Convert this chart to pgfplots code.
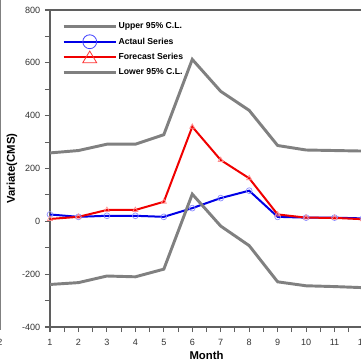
\documentclass[border=0pt]{standalone}
\usepackage{pgfplots}
\pgfplotsset{compat=1.18}
\usepackage{fontspec}
\setmainfont{Liberation Sans}
\definecolor{clgray}{RGB}{128,128,128}
\definecolor{axgray}{RGB}{95,95,95}
\definecolor{actblue}{RGB}{0,0,230}
\definecolor{fcred}{RGB}{240,0,0}
\begin{document}
\begin{tikzpicture}
\draw[clgray, line width=0.8pt] (0.6pt,272.25pt) -- (0.6pt,25pt);
\node[font=\fontsize{6.8}{8}\selectfont, text=black!80] at (0pt,15.75pt) {2};
\begin{axis}[
 at={(37.5pt,27pt)}, anchor=south west,
 scale only axis, width=234.75pt, height=237.75pt,
 xmin=1, xmax=12, ymin=-400, ymax=800,
 xtick={1,...,12}, minor xtick={1.5,2.5,...,11.5},
 ytick={-400,-200,...,800}, minor ytick={-300,-100,...,700},
 tick align=outside, xtick pos=bottom, ytick pos=left,
 major tick length=3.8pt, minor tick length=3.8pt,
 tick style={axgray, line width=0.8pt},
 axis line style={axgray, line width=1pt},
 ticklabel style={font=\fontsize{6.8}{8}\selectfont, text=black!80},
 xticklabel style={yshift=-1.5pt},
 /pgf/number format/assume math mode=true,
 xlabel={\textbf{Month}}, ylabel={\textbf{Variate(CMS)}},
 every axis x label/.style={at={(rel axis cs:0.5,0)}, yshift=-21pt, anchor=center, font=\fontsize{8.5}{10}\selectfont\bfseries},
 every axis y label/.style={at={(rel axis cs:0,0.5)}, xshift=-28.5pt, rotate=90, anchor=center, font=\fontsize{8.5}{10}\selectfont\bfseries},
 legend style={draw=none, fill=none, at={(rel axis cs:0,1)}, anchor=north west,
   xshift=6pt, yshift=-6pt, font=\fontsize{6.5}{7}\selectfont\bfseries,
   row sep=3.3pt, nodes={inner sep=1pt, text height=5pt, text depth=1.2pt}},
 legend cell align=left,
]
\addplot[clgray, line width=2.2pt,
  legend image code/.code={\draw[clgray, line width=2.2pt] (0pt,0pt) -- (39pt,0pt);}]
 coordinates {(1,259) (2,268) (3,292) (4,292) (5,328) (6,613) (7,492) (8,420) (9,287) (10,270) (11,268) (12,266)};
\addlegendentry{\textbf{Upper 95\% C.L.}}
\addplot[actblue, line width=1.5pt, mark=o, mark size=2.2pt, mark options={blue!45, line width=0.5pt},
  legend image code/.code={\draw[actblue, line width=1.5pt] (0pt,0pt) -- (39pt,0pt);
    \draw[overlay, blue!75, line width=0.6pt] (19.5pt,0pt) circle (5.2pt);}]
 coordinates {(1,26) (2,17) (3,21) (4,21) (5,17) (6,50) (7,88) (8,116) (9,17) (10,14) (11,14) (12,11)};
\addlegendentry{\textbf{Actaul Series}}
\addplot[fcred, line width=1.5pt, mark=triangle, mark size=2.2pt, mark options={red!45, line width=0.5pt},
  legend image code/.code={\draw[fcred, line width=1.5pt] (0pt,0pt) -- (39pt,0pt);
    \draw[overlay, red!80, line width=0.6pt] (14.25pt,-4.3pt) -- (24.75pt,-4.3pt) -- (19.5pt,4.5pt) -- cycle;}]
 coordinates {(1,9) (2,17) (3,43) (4,43) (5,74) (6,358) (7,232) (8,163) (9,26) (10,14) (11,13) (12,8)};
\addlegendentry{\textbf{Forecast Series}}
\addplot[clgray, line width=2.2pt,
  legend image code/.code={\draw[clgray, line width=2.2pt] (0pt,0pt) -- (39pt,0pt);}]
 coordinates {(1,-239) (2,-232) (3,-207) (4,-210) (5,-181) (6,103) (7,-18) (8,-92) (9,-229) (10,-244) (11,-247) (12,-251)};
\addlegendentry{\textbf{Lower 95\% C.L.}}
\end{axis}
\pgfresetboundingbox
\path (0pt,0pt) rectangle (270pt,272.25pt);
\end{tikzpicture}
\end{document}
